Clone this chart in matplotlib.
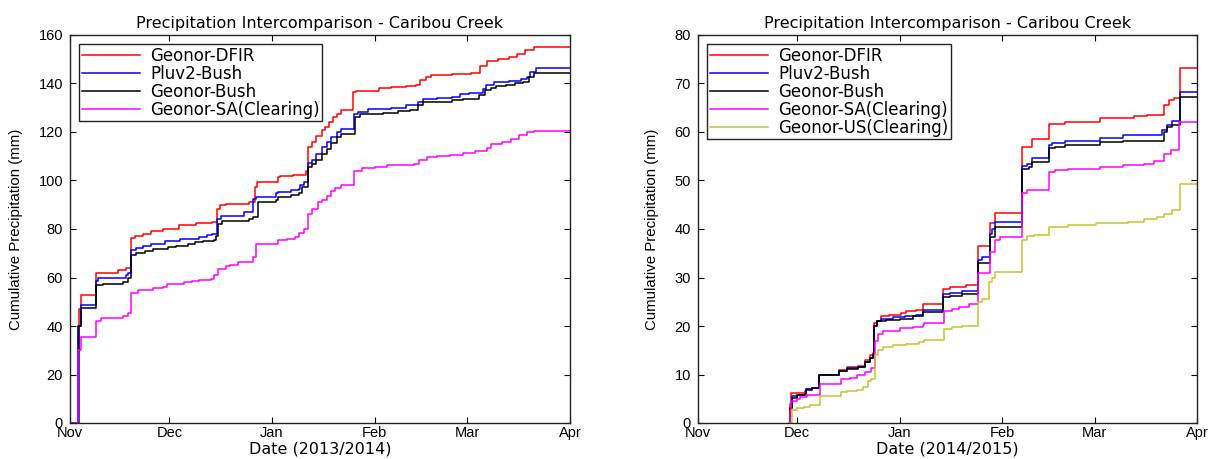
import matplotlib
matplotlib.use("Agg")
import matplotlib.pyplot as plt
import matplotlib.dates as mdates
import numpy as np
from datetime import datetime, timedelta

plt.rcParams['font.family'] = ['Liberation Sans', 'DejaVu Sans']

# ---- season 2013/2014 : (day after Nov 1, cumulative mm) breakpoints ----
dfir_13_day = [0, 2.5, 2.8, 3.4, 7.3, 7.8, 14.5, 17.0, 18.4, 19.5, 22, 24.5, 28, 33, 38, 43, 44.4, 45.3, 47, 54, 55.8, 56.6,
               62.7, 63.3, 67.3, 71.4, 72.0, 73.2, 74.3, 76, 77, 78.3, 79.5, 80.6, 81.7, 85.6, 86.4, 93.4, 96.8, 101.5,
               104.4, 105.7, 107.5, 109, 111.3, 115.4, 121, 123.8, 125.8, 129.2, 132.7, 135, 137.3, 140.2, 151]
dfir_13_val = [0, 30, 47, 52.6, 52.6, 62, 63, 64, 76.4, 77, 78, 79, 80, 81.5, 82.5, 83, 88.3, 89.7, 90.3, 91, 97.2, 99.3,
               101.4, 101.8, 102.3, 104.1, 113.8, 115.9, 118.2, 120.7, 122, 124.1, 126.2, 127.6, 129, 136.3, 137, 138,
               138.5, 139, 139.5, 141.4, 142.5, 143.4, 143.7, 144, 144.5, 147.4, 149.3, 150, 151, 152, 153.8, 155.2, 155.2]

pluv_13_day = [0, 2.8, 3.3, 7.3, 7.8, 8.4, 17.0, 17.6, 18.4, 19.8, 22, 24.5, 28.6, 33.2, 39, 41.4, 43, 44.4, 45.5, 52.5,
               55.2, 56.3, 62.1, 62.7, 66.8, 69.1, 69.6, 70.8, 72.0, 73.2, 74.3, 76, 77.7, 78.8, 80.6, 81.7, 85.8,
               87, 89.9, 96.8, 101.5, 105, 106.7, 110.7, 115.4, 117.7, 120.6, 124.6, 125.7, 128, 132.7, 136.2, 138,
               139, 140.8, 151]
pluv_13_val = [0, 40, 48.6, 48.6, 58.6, 60, 61, 62, 71.4, 72, 73, 73.8, 75.2, 76, 76.8, 77.5, 77.9, 84.1, 85.5, 86.9,
               92.4, 93, 94.8, 95.2, 95.9, 96.5, 98, 99.5, 107.2, 108.6, 111, 113.8, 115.9, 118, 120, 121.4, 127.6,
               128.3, 129.4, 130, 131, 132.4, 133.8, 134, 134.5, 135.5, 136, 137.9, 139.3, 140.7, 141, 141.7, 142.8,
               144.8, 146.2, 146.2]

bush_13_day = [0, 2.5, 3.3, 7.3, 7.8, 10.1, 15.9, 17.6, 18.4, 19.8, 22.8, 25.1, 29.7, 32, 35.5, 37.8, 40.1, 43.6, 44.1,
               44.8, 45.9, 54.1, 55.2, 55.5, 56.8, 62.1, 62.7, 66.8, 69.1, 70.2, 71.4, 72.0, 73.2, 74.3, 76, 77.7,
               78.8, 80.6, 81.7, 86.2, 87.6, 89.9, 94.5, 99.1, 102.6, 105, 106.7, 111.9, 115.4, 118.8, 123.5, 125.3,
               127, 128.7, 131.6, 134.5, 136.8, 138.5, 140.2, 151]
bush_13_val = [0, 40, 47.6, 47.6, 56.8, 57.5, 58, 60, 69.2, 70, 71, 71.7, 72.5, 73.1, 74, 74.5, 75, 75.5, 77.2, 82.1,
               83.1, 84.1, 85, 85, 91, 92, 93.1, 94.2, 95, 97.2, 97.5, 105.5, 107, 108.6, 111, 113.1, 115.4, 118, 119.3,
               126.2, 127.3, 127.5, 128, 128.5, 129, 131, 132.4, 132.5, 133, 133.5, 135.2, 137.2, 138, 138.9, 139.5,
               140, 140.7, 142.5, 144.3, 144.3]

sa_13_day = [0, 2.4, 3.4, 7.3, 7.8, 9.5, 13.5, 15.9, 17.6, 18.5, 20.5, 22.8, 25.1, 28, 29.2, 32, 34.3, 36.7, 39,
             42.5, 43.6, 44.8, 47, 48.2, 50.6, 55.2, 56.1, 62.1, 62.7, 65.6, 67.9, 69.1, 70.8, 72.0, 73.2, 74.9, 76,
             77.7, 78.8, 80, 81.7, 85.8, 88.1, 92.1, 95.7, 101.5, 103.8, 105.5, 107.8, 110.7, 114.7, 118.8, 122.3,
             125.8, 127, 130.4, 133.3, 135.6, 137.9, 140.2, 151]
sa_13_val = [0, 30, 35.6, 35.6, 42.1, 43.4, 43.5, 44, 45.5, 53.8, 54.9, 55, 55.5, 56, 57.2, 57.5, 58, 58.6, 59, 59.2,
             61, 63.7, 64.6, 65, 66.2, 68.3, 73.8, 74, 75.6, 76, 76.5, 78.3, 80, 86.2, 88.3, 91, 92, 93.8, 95.5, 97,
             98, 104.1, 105.1, 105.5, 106.2, 106.5, 107, 108.6, 109.7, 110, 110.5, 111.3, 112, 113.5, 115.2, 116,
             117, 118.8, 120, 120.5, 120.5]

# ---- season 2014/2015 ----
dfir_14_day = [27.5, 27.8, 28.2, 32.3, 32.8, 34.6, 36.7, 42.7, 45, 48.5, 50.6, 52, 52.9, 53.4, 54.3, 55.5, 57.8, 61.3,
               63, 65.9, 68.2, 74.2, 76.4, 81, 84.7, 88.5, 90, 98, 101.2, 106.1, 111.1, 121.7, 132, 136, 141, 142.5,
               144, 146, 151]
dfir_14_val = [0, 4, 6.2, 6.5, 7.0, 7.3, 10.0, 11.0, 11.5, 11.8, 13.0, 14.0, 14.5, 20.6, 21.0, 22.1, 22.3, 22.6, 23.0,
               23.3, 24.5, 27.6, 28.1, 28.5, 36.4, 41.2, 43.4, 57.0, 58.5, 61.6, 62.1, 62.8, 63.2, 63.5, 65.5, 66.5,
               67.0, 73.2, 73.2]

pluv_14_day = [27.5, 27.8, 28.3, 29.9, 32.3, 32.8, 34.6, 36.7, 38, 42.7, 45, 48.5, 50.6, 52, 52.9, 53.4, 54.3, 55.5,
               59, 62.5, 65.9, 68.2, 74.2, 76.4, 80, 84.7, 85.8, 88.5, 89.1, 90, 98.1, 99.6, 101.2, 106.1, 107.1,
               111.1, 121.7, 128.7, 140.5, 142, 143.5, 146, 151]
pluv_14_val = [0, 3, 5.5, 5.8, 6.0, 7.0, 7.3, 9.8, 10, 10.8, 11.3, 11.5, 12.5, 13.5, 14, 20, 21, 21.5, 21.8, 22, 22.3,
               23.4, 26.6, 26.9, 27.3, 33.6, 34.3, 38.9, 40, 41.4, 53.0, 53.5, 54.6, 57.3, 57.7, 58.1, 58.8, 59.3, 60.5,
               61.5, 62.3, 68.2, 68.2]

bush_14_day = [27.5, 27.8, 28.3, 30, 32.3, 32.8, 34.6, 36.7, 38, 42.7, 45, 48.5, 50.6, 52, 52.9, 53.4, 54.3, 57, 61,
               65, 68.2, 74.2, 76.4, 80, 84.7, 88.3, 90, 98.1, 100.2, 101.2, 106.1, 108.1, 111.1, 121.7, 128.7, 141,
               142, 143.5, 146, 151]
bush_14_val = [0, 3, 5.2, 5.7, 6.0, 6.8, 7.2, 9.8, 10, 10.8, 11.2, 11.5, 12.5, 13.5, 14.2, 20, 21, 21.3, 21.5, 22,
               22.8, 25.9, 26.2, 26.6, 32.9, 38.4, 40.5, 52.3, 52.8, 53.9, 56.6, 57.0, 57.3, 57.9, 58.2, 60, 61, 61.5,
               67.3, 67.3]

sa_14_day = [27.5, 27.8, 28.2, 29.9, 31, 33, 36.8, 43.3, 46, 48, 50.6, 52.2, 53.5, 54.5, 56, 61, 65, 68, 68.5, 74.5,
             77, 79, 82, 84.8, 88.5, 90, 91.5, 98.1, 99.6, 106.1, 108.1, 112.1, 121.7, 128.7, 135, 138, 141, 143,
             145.5, 151]
sa_14_val = [0, 2.5, 4.5, 5.0, 5.3, 5.7, 8.1, 9.1, 9.3, 9.8, 10.5, 11.4, 16.9, 18.3, 19.0, 19.5, 19.8, 20.2, 20.7,
             23.1, 23.6, 24.0, 24.5, 31.0, 35.3, 37.7, 38.3, 47.4, 48.1, 51.8, 52.1, 52.4, 52.8, 53.2, 53.5, 54, 55.5,
             56.2, 62.0, 62.0]

us_14_day = [27.5, 28.3, 30, 32, 34, 36.8, 43.3, 45, 48, 50, 51.5, 52.5, 53.6, 54.5, 56, 59, 63, 67, 68.5, 74.5, 77,
             80, 84.8, 86, 88.2, 89, 90, 98, 99.6, 101.6, 106.1, 112.1, 120.5, 130, 135, 139, 141, 143.5, 146, 151]
us_14_val = [0, 2.6, 3.0, 3.3, 3.7, 5.5, 6.3, 6.6, 6.8, 7.5, 8.6, 9.0, 14.1, 15.0, 15.7, 16.0, 16.3, 16.6, 17.2, 19.4,
             19.8, 20.0, 25.0, 25.5, 29.0, 30.0, 31.2, 37.7, 38.5, 38.7, 40.5, 40.8, 41.3, 41.5, 42.0, 42.5, 43.0,
             44.0, 49.3, 49.3]

labels = ['Geonor-DFIR', 'Pluv2-Bush', 'Geonor-Bush', 'Geonor-SA(Clearing)', 'Geonor-US(Clearing)']
colors = ['#ff0000', '#0000ff', '#000000', '#ff00ff', '#c4c42c']
wide = ['DejaVu Sans']


def to_dates(start, days):
    return [start + timedelta(days=d) for d in days]


def setup_axes(ax, year, ymax, ystep, xlabel):
    start = datetime(year, 11, 1)
    ax.set_xlim(start, datetime(year + 1, 4, 1))
    ax.set_ylim(0, ymax)
    ax.set_yticks(np.arange(0, ymax + 1, ystep))
    ax.xaxis.set_major_locator(mdates.MonthLocator())
    ax.xaxis.set_major_formatter(mdates.DateFormatter('%b'))
    ax.tick_params(direction='in', top=True, right=True, length=4, width=0.8, labelsize=10.5)
    ax.tick_params(axis='x', pad=2)
    ax.tick_params(axis='y', pad=5)
    for s in ax.spines.values():
        s.set_linewidth(1.0)
        s.set_color('#222222')
    ax.set_title('Precipitation Intercomparison - Caribou Creek', fontsize=11.5, family=wide, pad=5)
    ax.set_xlabel(xlabel, fontsize=11.5, family=wide, labelpad=1)
    ax.set_ylabel('Cumulative Precipitation (mm)', fontsize=10.8, labelpad=11)


fig = plt.figure(figsize=(12.11, 4.59), dpi=100)
ax1 = fig.add_axes([70 / 1211, 36 / 459, 500 / 1211, 388 / 459])
ax2 = fig.add_axes([698 / 1211, 36 / 459, 499 / 1211, 388 / 459])

s13 = datetime(2013, 11, 1)
series13 = [(dfir_13_day, dfir_13_val), (pluv_13_day, pluv_13_val), (bush_13_day, bush_13_val), (sa_13_day, sa_13_val)]
for i, (d, v) in enumerate(series13):
    ax1.step(to_dates(s13, d), v, where='post', color=colors[i], lw=1.1, label=labels[i])

s14 = datetime(2014, 11, 1)
series14 = [(dfir_14_day, dfir_14_val), (pluv_14_day, pluv_14_val), (bush_14_day, bush_14_val),
            (sa_14_day, sa_14_val), (us_14_day, us_14_val)]
for i, (d, v) in enumerate(series14):
    ax2.step(to_dates(s14, d), v, where='post', color=colors[i], lw=1.1, label=labels[i])

setup_axes(ax1, 2013, 160, 20, 'Date (2013/2014)')
setup_axes(ax2, 2014, 80, 10, 'Date (2014/2015)')

for ax in (ax1, ax2):
    leg = ax.legend(loc='upper left', prop={'family': wide, 'size': 12}, handlelength=3.5, handletextpad=0.6,
                    borderpad=0.15, labelspacing=0.0, fancybox=False, framealpha=1, borderaxespad=0.55)
    leg.get_frame().set_edgecolor('#222222')
    leg.get_frame().set_linewidth(1.0)

fig.savefig('out.png', dpi=100)
